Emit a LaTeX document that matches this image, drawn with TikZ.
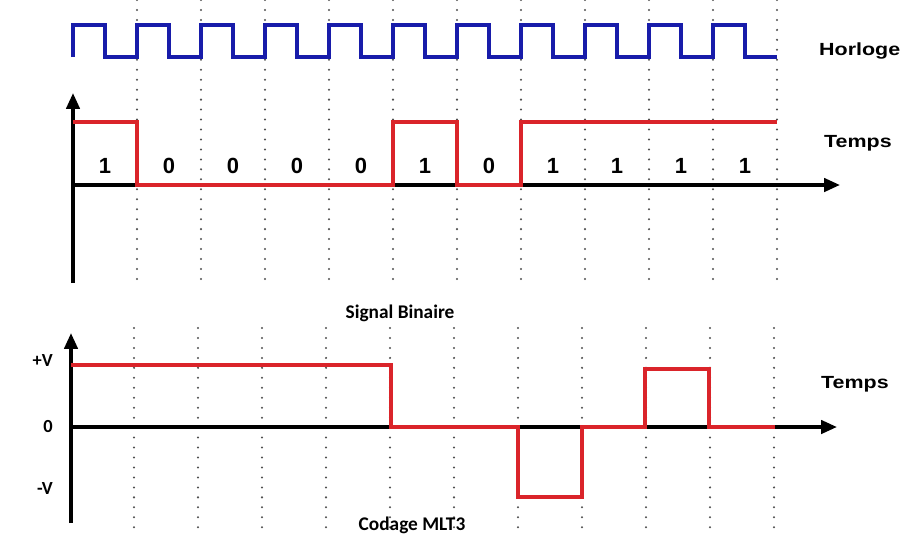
\documentclass[tikz,border=0pt]{standalone}
\usepackage{fontspec}
\setmainfont{Liberation Sans}
\newfontfamily\widefont{Liberation Sans}[FakeStretch=1.22]
\newfontfamily\calfont{Carlito}
\usetikzlibrary{arrows.meta}
\definecolor{clkblue}{RGB}{24,28,170}
\definecolor{sigred}{RGB}{218,36,42}
\definecolor{dotgray}{RGB}{80,80,80}

\begin{document}
\begin{tikzpicture}[
  x=0.02cm, y=-0.02cm,
  grid/.style={dotgray, line width=1.3pt, line cap=round, dash pattern=on 0pt off 5.67pt},
  clk/.style={clkblue, line width=2pt},
  sig/.style={sigred, line width=2pt},
  axis/.style={line width=2pt, -{Triangle[length=9pt, width=7.5pt]}},
  bit/.style={font=\fontsize{12.5}{13}\bfseries\selectfont},
  tag/.style={font=\widefont\fontsize{10}{11}\bfseries\selectfont, anchor=west},
  title/.style={font=\calfont\fontsize{11}{12}\bfseries\selectfont, anchor=base},
  lvl/.style={font=\calfont\fontsize{10.5}{12}\bfseries\selectfont, anchor=east}
]
\useasboundingbox (0,0) rectangle (902,535);
\clip (0,0) rectangle (902,535);

\foreach \k in {0,...,10} {
  \draw[grid] (137+64*\k,0) -- (137+64*\k,287);
  \draw[grid] (134+64*\k,328) -- (134+64*\k,535);
}

\draw[clk] (73,57) \foreach \k in {0,...,10} {
  -- (73+64*\k,25) -- (105+64*\k,25) -- (105+64*\k,57) -- (137+64*\k,57)};

\draw[axis] (73,283) -- (73,93);
\draw[axis] (73,185) -- (840,185);
\draw[sig] (73,122) -| (137,185) -| (393,122) -| (457,185) -| (521,122) -- (777,122);
\foreach \b [count=\i from 0] in {1,0,0,0,0,1,0,1,1,1,1}
  \node[bit] (bit\i) at (105+64*\i,166) {\b};

\node[tag] (horloge) at (813,51) {Horloge};
\node[tag] (tempsA)  at (818,143) {Temps};
\node[title] (binaire) at (400,318) {Signal Binaire};

\draw[axis] (71,523) -- (71,333);
\draw[axis] (71,427) -- (837,427);
\draw[sig] (71,365) -| (391,427) -| (518,497) -| (582,427) -| (645,369) -| (709,427) -- (775,427);

\node[lvl] (plusV)  at (59,361) {+V};
\node[lvl] (zeroV)  at (59,427) {0};
\node[lvl] (minusV) at (59,489) {-V};
\node[tag] (tempsB) at (815,384) {Temps};
\node[title] (mlt)  at (412,530) {Codage MLT3};
\end{tikzpicture}
\end{document}
